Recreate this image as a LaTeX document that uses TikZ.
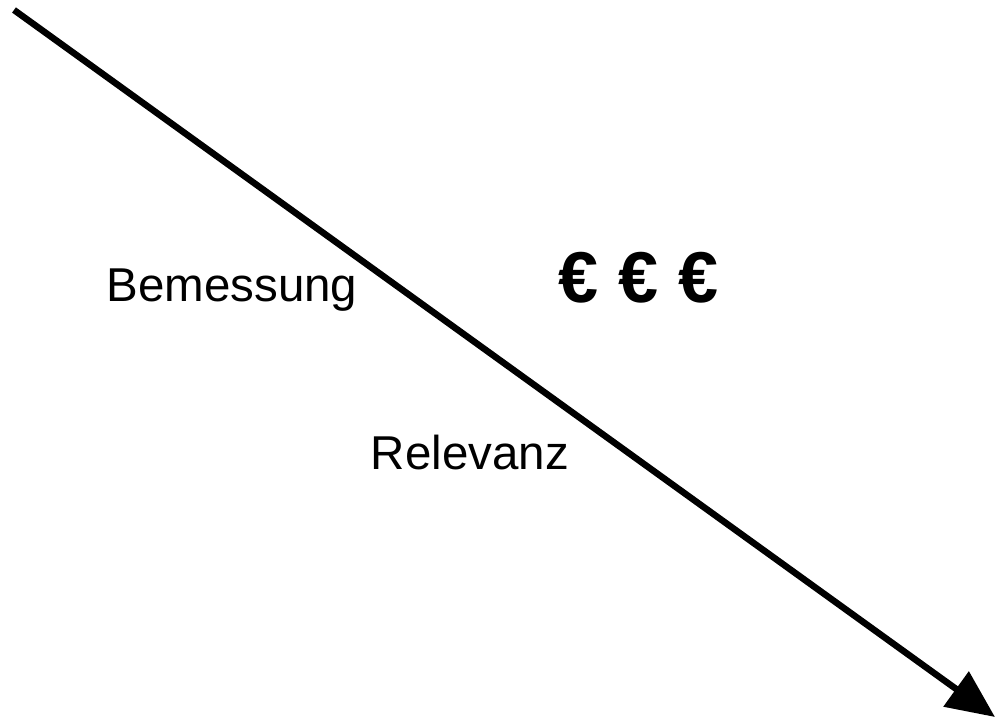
\documentclass[tikz,border=0pt]{standalone}
\usepackage{fontspec}
\setmainfont{Liberation Sans}
\usetikzlibrary{arrows.meta}
\tikzset{
  lbl/.style={inner sep=0pt, font=\fontsize{47.5}{56}\selectfont},
  euro/.style={inner sep=0pt, font=\fontsize{72}{84}\selectfont\bfseries},
  axis/.style={line width=6.5pt, -{Triangle[length=48pt,width=42pt]}}
}
\begin{document}
\begin{tikzpicture}[x=1pt,y=-1pt]
  \useasboundingbox[fill=white] (0,0) rectangle (996,720);
  \coordinate (s) at (14,10);
  \coordinate (e) at (995,717);
  \draw[axis] (s) -- (e);
  \node[lbl] (bem) at (232,290) {Bemessung};
  \node[lbl] (rel) at (470,453) {Relevanz};
  \node[euro] (eur) at (639,278) {€ € €};
\end{tikzpicture}
\end{document}
